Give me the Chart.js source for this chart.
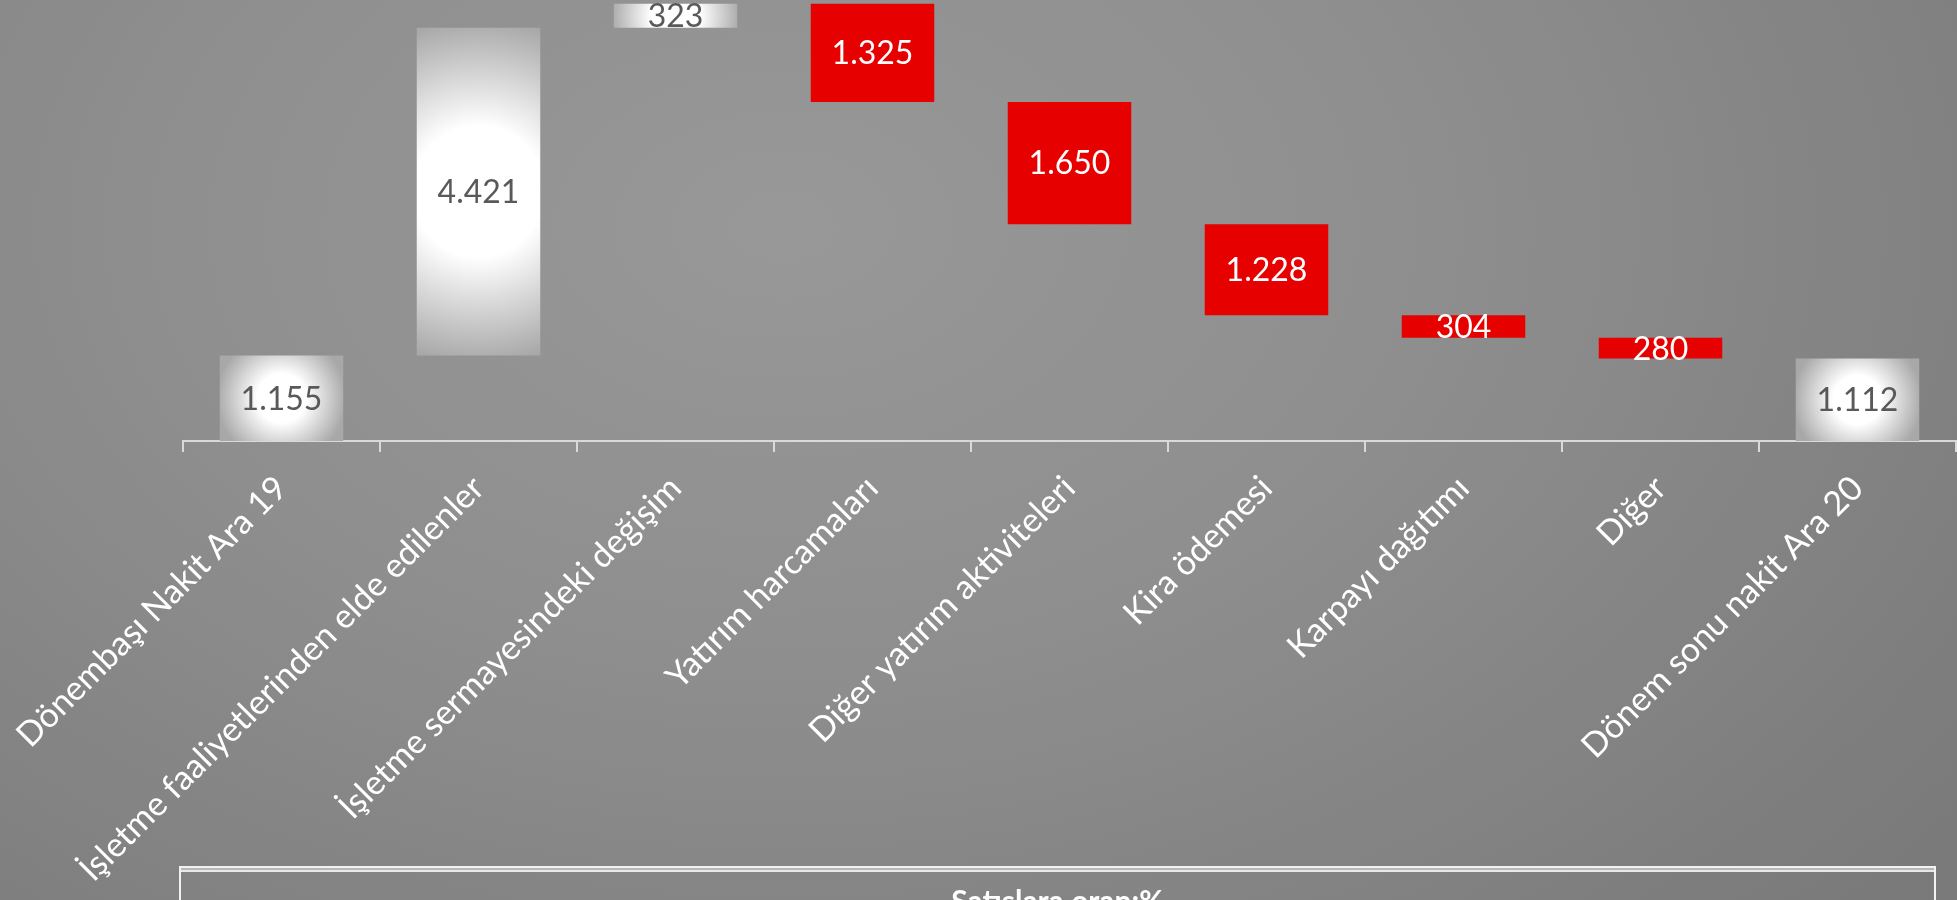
<!DOCTYPE html>
<html lang="tr">
<head>
<meta charset="utf-8">
<title>Nakit akışı</title>
<script src="https://cdn.jsdelivr.net/npm/chart.js@4/dist/chart.umd.min.js"></script>
<style>
  html, body { margin: 0; padding: 0; overflow: hidden; }
  body {
    width: 1957px; height: 900px;
    background: radial-gradient(ellipse 75% 110% at 40% 25%, #989898 0%, #8e8e8e 45%, #7a7a7a 100%);
    font-family: Lato, "Open Sans", sans-serif;
  }
  #wrap { position: absolute; left: 0; top: 0; width: 1957px; height: 900px; }
  #tablo {
    position: absolute; left: 179px; top: 866px; width: 1753px; height: 120px;
    border: 2px solid #f2f2f2; box-shadow: inset 0 2px 0 #b8b8b8, inset 0 4px 0 #e8e8e8;
    color: #fff; font-weight: bold; font-size: 30px; text-align: center;
  }
  #tablo span { display: block; margin-top: 14px; }
</style>
</head>
<body>
<div id="wrap"><canvas id="chartNakit"></canvas></div>
<div id="tablo"><span>Satışlara oran:%</span></div>
<script>
// kalemler ve tutarlar (milyon)
const categories = [
  'Dönembaşı Nakit Ara 19',
  'İşletme faaliyetlerinden elde edilenler',
  'İşletme sermayesindeki değişim',
  'Yatırım harcamaları',
  'Diğer yatırım aktiviteleri',
  'Kira ödemesi',
  'Karpayı dağıtımı',
  'Diğer',
  'Dönem sonu nakit Ara 20'
];
const amounts = [1155, 4421, 323, 1325, 1650, 1228, 304, 280, 1112];
const kinds = ['total', 'up', 'up', 'down', 'down', 'down', 'down', 'down', 'total'];

// waterfall araliklari
const ranges = [];
let run = 0;
amounts.forEach((v, i) => {
  if (kinds[i] === 'total') { ranges.push([0, v]); run = v; }
  else if (kinds[i] === 'up') { ranges.push([run, run + v]); run += v; }
  else { ranges.push([run - v, run]); run -= v; }
});

const barPct = 0.627;

function fmt(v) {
  return String(v).replace(/\B(?=(\d{3})+(?!\d))/g, '.');
}

// beyaz barlar icin ortadan disa gradyan
function barFill(c) {
  const chart = c.chart;
  if (c.type !== 'data') return '#ffffff';
  const i = c.dataIndex;
  if (kinds[i] === 'down') return '#e60000';
  if (!chart.chartArea) return '#ffffff';
  const xs = chart.scales.x, ys = chart.scales.y;
  const cx = xs.getPixelForValue(i);
  const yTop = ys.getPixelForValue(ranges[i][1]);
  const yBot = ys.getPixelForValue(ranges[i][0]);
  const cy = (yTop + yBot) / 2;
  const w = xs.width / categories.length * barPct;
  const r = Math.max(w, yBot - yTop) / 2 * 1.05;
  const g = chart.ctx.createRadialGradient(cx, cy, 0, cx, cy, r);
  g.addColorStop(0, '#ffffff');
  g.addColorStop(0.38, '#ffffff');
  g.addColorStop(1, '#a8a8a8');
  return g;
}

const degerEtiketi = {
  id: 'degerEtiketi',
  afterDatasetsDraw(chart) {
    const ctx = chart.ctx;
    const meta = chart.getDatasetMeta(0);
    ctx.save();
    ctx.font = '32px Lato';
    ctx.textAlign = 'center';
    ctx.textBaseline = 'middle';
    meta.data.forEach((bar, i) => {
      const p = bar.getCenterPoint();
      ctx.fillStyle = kinds[i] === 'down' ? '#ffffff' : '#595959';
      ctx.fillText(fmt(amounts[i]), p.x, p.y + 1);
    });
    ctx.restore();
  }
};

const ctx = document.getElementById('chartNakit').getContext('2d');
const myChart = new Chart(ctx, {
  type: 'bar',
  data: {
    labels: categories,
    datasets: [{
      data: ranges,
      backgroundColor: barFill,
      borderWidth: 0,
      categoryPercentage: 1,
      barPercentage: barPct
    }]
  },
  options: {
    responsive: true,
    maintainAspectRatio: false,
    animation: false,
    layout: { padding: { left: 183, right: 1, top: 0, bottom: 0 } },
    plugins: { legend: { display: false }, tooltip: { enabled: false } },
    scales: {
      x: {
        grid: { offset: true, drawOnChartArea: false, tickLength: 11, color: '#d9d9d9', lineWidth: 2 },
        border: { color: '#d9d9d9', width: 2 },
        ticks: {
          color: '#ffffff',
          font: { family: 'Lato', size: 34 },
          minRotation: 45,
          maxRotation: 45,
          autoSkip: false,
          padding: 16
        },
        afterFit(s) {
          s.height = 459;
          s.paddingLeft = 0;
          s.paddingRight = 0;
        }
      },
      y: { display: false, min: 0, max: 5950 }
    }
  },
  plugins: [degerEtiketi]
});
</script>
</body>
</html>
